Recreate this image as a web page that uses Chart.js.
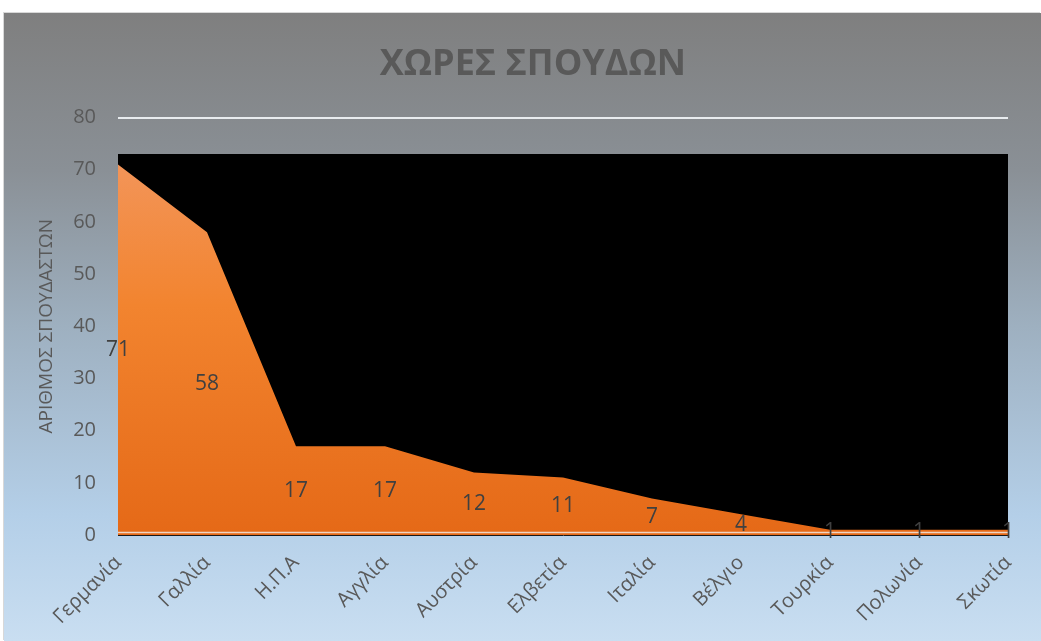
<!DOCTYPE html>
<html>
<head>
<meta charset="utf-8">
<script src="https://cdn.jsdelivr.net/npm/chart.js@4/dist/chart.umd.min.js"></script>
<style>
  html, body { margin: 0; padding: 0; background: #ffffff; width: 1041px; height: 641px; overflow: hidden; }
  #wrap {
    position: absolute; left: 4px; top: 13px; width: 1037px; height: 628px;
    background: linear-gradient(to bottom, #7f7f7f 0%, #8a9096 25%, #9eb0c0 50%, #b4cfe8 80%, #c9def1 100%);
    box-shadow: -1px -1px 0 #d8d8d8;
  }
  canvas { display: block; }
</style>
</head>
<body>
<div id="wrap"><canvas id="c" width="1037" height="628" style="width:1037px;height:628px"></canvas></div>
<script>
const chartTitle = 'ΧΩΡΕΣ ΣΠΟΥΔΩΝ';
const categories = ['Γερμανία', 'Γαλλία', 'Η.Π.Α', 'Αγγλία', 'Αυστρία', 'Ελβετία', 'Ιταλία', 'Βέλγιο', 'Τουρκία', 'Πολωνία', 'Σκωτία'];
const students = [71, 58, 17, 17, 12, 11, 7, 4, 1, 1, 1];
const backdropLevel = [73, 73, 73, 73, 73, 73, 73, 73, 73, 73, 73];
const yTicks = [0, 10, 20, 30, 40, 50, 60, 70, 80];

const FONT = "'Open Sans', 'Noto Sans', sans-serif";

const midLabels = {
  id: 'midLabels',
  afterDatasetsDraw(chart) {
    const meta = chart.getDatasetMeta(0);
    const ys = chart.scales.y;
    const ca = chart.chartArea;
    const ctx = chart.ctx;
    ctx.save();
    // light baseline just above the axis line
    ctx.strokeStyle = 'rgba(240,225,215,0.9)';
    ctx.lineWidth = 1.5;
    ctx.beginPath();
    ctx.moveTo(ca.left, ca.bottom - 2.5);
    ctx.lineTo(ca.right, ca.bottom - 2.5);
    ctx.stroke();

    ctx.font = "21px " + FONT;
    ctx.fillStyle = '#404040';
    ctx.textAlign = 'center';
    ctx.textBaseline = 'middle';
    chart.data.datasets[0].data.forEach((v, i) => {
      const x = meta.data[i].x;
      const y = ys.getPixelForValue(v / 2);
      ctx.fillText(String(v), x, y);
    });
    ctx.restore();
  },
  afterDraw(chart) {
    const ctx = chart.ctx;
    ctx.save();
    ctx.font = "bold 36px " + FONT;
    ctx.fillStyle = '#595959';
    ctx.textAlign = 'center';
    ctx.textBaseline = 'alphabetic';
    ctx.fillText(chartTitle, chart.width * 0.51, 62);
    ctx.restore();
  }
};

new Chart(document.getElementById('c'), {
  type: 'line',
  data: {
    labels: categories,
    datasets: [
      {
        label: 'ΑΡΙΘΜΟΣ ΣΠΟΥΔΑΣΤΩΝ',
        data: students,
        fill: 'origin',
        borderWidth: 0,
        pointRadius: 0,
        tension: 0,
        backgroundColor(ctx) {
          const ca = ctx.chart.chartArea;
          if (!ca) return '#ec7a2c';
          const g = ctx.chart.ctx.createLinearGradient(0, ca.top, 0, ca.bottom);
          g.addColorStop(0, '#f39a66');
          g.addColorStop(0.45, '#f2842f');
          g.addColorStop(1, '#e56917');
          return g;
        }
      },
      {
        label: 'backdrop',
        data: backdropLevel,
        fill: 'origin',
        borderWidth: 0,
        pointRadius: 0,
        backgroundColor: '#000000'
      }
    ]
  },
  options: {
    responsive: false,
    animation: false,
    events: [],
    layout: { padding: { top: 104.5, right: 33, left: 0, bottom: 0 } },
    plugins: {
      legend: { display: false },
      tooltip: { enabled: false },
      title: { display: false }
    },
    scales: {
      x: {
        offset: false,
        grid: { display: false, drawTicks: false },
        border: { display: true, color: '#1a1a1a', width: 1 },
        ticks: {
          color: '#595959',
          font: { family: FONT, size: 20 },
          minRotation: 45,
          maxRotation: 45,
          padding: 16,
          autoSkip: false
        },
        afterFit(s) { s.height = 106; s.paddingLeft = 0; s.paddingRight = 0; }
      },
      y: {
        min: 0,
        max: 80,
        afterBuildTicks(s) { s.ticks = yTicks.map(v => ({ value: v })); },
        grid: { color: '#e8ecef', lineWidth: 2, drawTicks: false },
        border: { display: false },
        ticks: {
          color: '#595959',
          font: { family: FONT, size: 20 },
          padding: 22
        },
        title: {
          display: true,
          text: 'ΑΡΙΘΜΟΣ ΣΠΟΥΔΑΣΤΩΝ',
          color: '#595959',
          font: { family: FONT, size: 19 },
          padding: { top: 31, bottom: 0 }
        },
        afterFit(s) { s.width = 114; s.paddingTop = 0; s.paddingBottom = 0; }
      }
    }
  },
  plugins: [midLabels]
});
</script>
</body>
</html>
